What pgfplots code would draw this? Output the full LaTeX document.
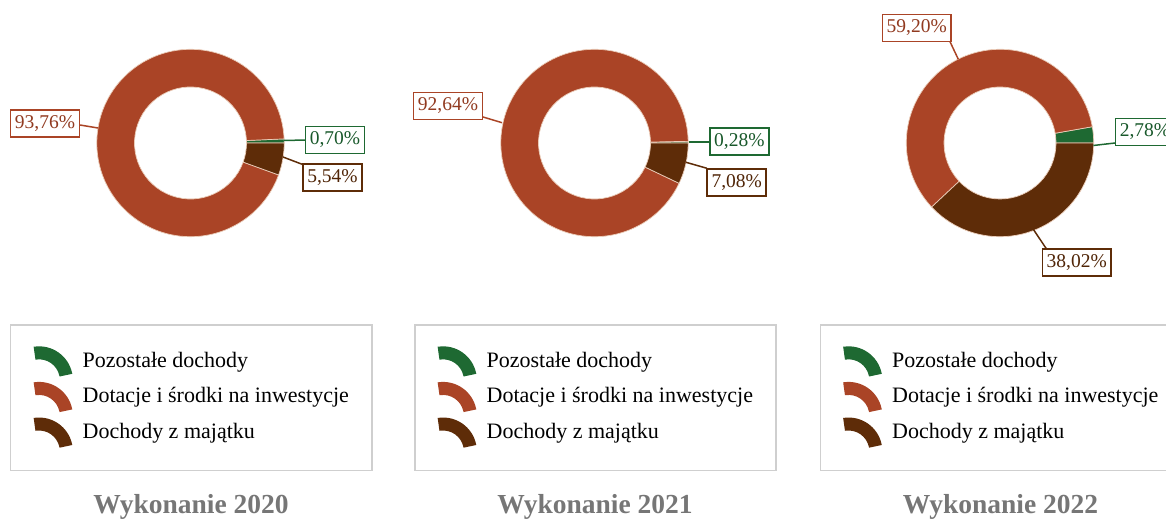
\documentclass[border=0pt]{standalone}
\usepackage{fontspec}
\setmainfont{Liberation Serif}
\usepackage{pgfplots}
\usepackage{pgfplotstable}
\pgfplotsset{compat=1.18}

\definecolor{cgreen}{HTML}{1E6932}
\definecolor{cred}{HTML}{AA4426}
\definecolor{cbrown}{HTML}{5E2C08}
\definecolor{sepcol}{HTML}{EBCDB9}
\definecolor{legcol}{HTML}{CFCFCF}
\definecolor{titlecol}{HTML}{767676}

\newcommand\lblfont{\fontsize{19.5}{23}\selectfont}
\newcommand\legfont{\fontsize{22}{26}\selectfont}
\newcommand\titfont{\fontsize{27.5}{33}\selectfont\bfseries}

% shares of income, in percent: Pozostale / Dotacje / Majatek
\pgfplotstableread{
cat value
Pozostale 0.70
Dotacje 93.76
Majatek 5.54
}\dataA
\pgfplotstableread{
cat value
Pozostale 0.28
Dotacje 92.64
Majatek 7.08
}\dataB
\pgfplotstableread{
cat value
Pozostale 2.78
Dotacje 59.20
Majatek 38.02
}\dataC

\def\cx{190.5}\def\cy{376}\def\Ro{93.7}\def\Ri{56}

\newcommand\angles[1]{%
  \pgfplotstablegetelem{0}{value}\of{#1}\pgfmathsetmacro\vG{\pgfplotsretval}%
  \pgfplotstablegetelem{1}{value}\of{#1}\pgfmathsetmacro\vR{\pgfplotsretval}%
  \pgfmathsetmacro\aG{3.6*\vG}%
  \pgfmathsetmacro\aR{\aG+3.6*\vR}%
}
\newcommand\sector[3]{%
  \fill[#1, draw=sepcol, line width=0.7pt]
    ([shift={(#2:\Ro pt)}]axis cs:\cx,\cy) arc[start angle=#2, end angle=#3, radius=\Ro pt]
    -- ([shift={(#3:\Ri pt)}]axis cs:\cx,\cy) arc[start angle=#3, end angle=#2, radius=\Ri pt] -- cycle;}
\newcommand\donut{%
  \sector{cgreen}{0}{\aG}\sector{cred}{\aG}{\aR}\sector{cbrown}{\aR}{360}}
\newcommand\lbl[4]{\node[draw=#1, line width=1.7pt, fill=white, text=#1!85!black, font=\lblfont,
  inner xsep=4.3pt, inner ysep=0pt, minimum height=27pt] at (axis cs:#2,#3) {#4};}
\newcommand\lead[5]{\draw[#1, line width=1.5pt] (axis cs:#2,#3) -- (axis cs:#4,#5);}
\newcommand\ttl[1]{\node[font=\titfont, text=titlecol, anchor=base] at (axis cs:191,6) {#1};}

\pgfplotsset{
  panel/.style={hide axis, clip=false, x=1pt, y=1pt, xmin=0, xmax=389, ymin=0, ymax=519,
    anchor=south west,
    legend image code/.code={\fill[##1, shift={(0pt,-17.5pt)}] (98:33pt) arc[start angle=98,end angle=12,radius=33pt] -- (12:21.5pt) arc[start angle=12,end angle=98,radius=21.5pt] -- cycle;},
    legend cell align=left,
    legend style={at={(10/389,195/519)}, anchor=north west, draw=legcol, line width=1.5pt,
      inner xsep=23pt, inner ysep=19.5pt, column sep=10.5pt, row sep=0pt, font=\legfont,
      nodes={inner sep=0pt, text height=21.75pt, text depth=12.75pt}},
  },
}

\begin{document}
\begin{tikzpicture}
\path[use as bounding box] (0,0) rectangle (1166pt,519pt);

\angles{\dataA}
\begin{axis}[panel, at={(0pt,0pt)}]
  \addlegendimage{cgreen}\addlegendentry{Pozostałe dochody}
  \addlegendimage{cred}\addlegendentry{Dotacje i środki na inwestycje}
  \addlegendimage{cbrown}\addlegendentry{Dochody z majątku}
  \donut
  \lead{cred}{80}{394}{98}{391}
  \lead{cgreen}{284}{378.5}{306}{379}
  \lead{cbrown}{283}{362}{304}{354}
  \lbl{cred}{45}{395.5}{93,76\%}
  \lbl{cgreen}{335}{379}{0,70\%}
  \lbl{cbrown}{332.5}{341.5}{5,54\%}
  \ttl{Wykonanie 2020}
\end{axis}

\angles{\dataB}
\begin{axis}[panel, at={(404pt,0pt)}]
  \addlegendimage{cgreen}\addlegendentry{Pozostałe dochody}
  \addlegendimage{cred}\addlegendentry{Dotacje i środki na inwestycje}
  \addlegendimage{cbrown}\addlegendentry{Dochody z majątku}
  \donut
  \lead{cred}{78}{402.3}{98}{396.3}
  \lead{cgreen}{285}{377}{305}{377}
  \lead{cbrown}{282}{356.7}{303}{350.7}
  \lbl{cred}{44}{413}{92,64\%}
  \lbl{cgreen}{335.3}{377.3}{0,28\%}
  \lbl{cbrown}{332.7}{336.7}{7,08\%}
  \ttl{Wykonanie 2021}
\end{axis}

\angles{\dataC}
\begin{axis}[panel, at={(809.5pt,0pt)}]
  \addlegendimage{cgreen}\addlegendentry{Pozostałe dochody}
  \addlegendimage{cred}\addlegendentry{Dotacje i środki na inwestycje}
  \addlegendimage{cbrown}\addlegendentry{Dochody z majątku}
  \donut
  \lead{cred}{140.5}{477.3}{148.8}{459.7}
  \lead{cgreen}{283.8}{373.5}{305.5}{376}
  \lead{cbrown}{223.8}{289.7}{237}{270}
  \lbl{cred}{107.2}{491}{59,20\%}
  \lbl{cgreen}{335.5}{387}{2,78\%}
  \lbl{cbrown}{267.2}{256.8}{38,02\%}
  \ttl{Wykonanie 2022}
\end{axis}
\end{tikzpicture}
\end{document}
